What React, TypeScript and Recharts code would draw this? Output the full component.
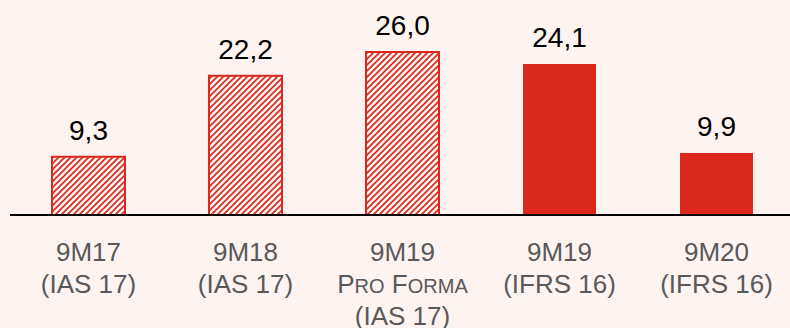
import React from "react";
import { BarChart, Bar, XAxis, YAxis, Cell, LabelList } from "recharts";

const categories = ["9M17", "9M18", "9M19", "9M19", "9M20"];
const subLabels = [["(IAS 17)"], ["(IAS 17)"], ["PRO FORMA", "(IAS 17)"], ["(IFRS 16)"], ["(IFRS 16)"]];
const values = [9.3, 22.2, 26.0, 24.1, 9.9];
const hatched = [true, true, true, false, false];

const data = categories.map((c, i) => ({ name: c, idx: i, value: values[i] }));

const RED = "#DA291C";
const FONT = "'Liberation Sans', Arial, sans-serif";

const SmallCaps = ({ text }: { text: string }) => {
  const words = text.split(" ");
  const parts: React.ReactNode[] = [];
  words.forEach((w, wi) => {
    parts.push(
      <tspan key={wi + "a"} fontSize={26}>{(wi > 0 ? " " : "") + w[0]}</tspan>
    );
    parts.push(
      <tspan key={wi + "b"} fontSize={20}>{w.slice(1)}</tspan>
    );
  });
  return <>{parts}</>;
};

const Tick = (props: any) => {
  const { x, y, payload } = props;
  const i = payload.index;
  const lines = [categories[i], ...subLabels[i]];
  return (
    <g>
      {lines.map((l, k) => (
        <text
          key={k}
          x={x}
          y={y + 46 + k * 32}
          textAnchor="middle"
          fill="#595959"
          fontSize={26}
          fontFamily={FONT}
        >
          {l === "PRO FORMA" ? <SmallCaps text="PRO FORMA" /> : l}
        </text>
      ))}
    </g>
  );
};

const fmt = (v: any) => Number(v).toFixed(1).replace(".", ",");

export default function App() {
  return (
    <div
      style={{
        position: "absolute",
        left: 0,
        top: 0,
        width: 790,
        height: 328,
        overflow: "hidden",
        background: "#FDF3F1",
      }}
    >
      <BarChart
        width={800}
        height={328}
        data={data}
        margin={{ top: 52, right: 5, left: 10, bottom: 0 }}
        barSize={73}
      >
        <defs>
          <pattern id="hatch" patternUnits="userSpaceOnUse" width="6" height="6">
            <rect width="6" height="6" fill="#FDF3F1" />
            <path d="M-1,7 L7,-1 M-1,1 L1,-1 M5,7 L7,5" stroke={RED} strokeWidth={1.6} />
          </pattern>
        </defs>
        <YAxis hide domain={[0, 26]} />
        <XAxis
          dataKey="idx"
          height={113}
          tickLine={false}
          tickSize={0}
          tickMargin={0}
          axisLine={{ stroke: "#000", strokeWidth: 2 }}
          tick={<Tick />}
          interval={0}
        />
        <Bar dataKey="value" isAnimationActive={false}>
          {data.map((d, i) => (
            <Cell
              key={i}
              fill={hatched[i] ? "url(#hatch)" : RED}
              stroke={RED}
              strokeWidth={hatched[i] ? 2 : 0}
            />
          ))}
          <LabelList
            dataKey="value"
            position="top"
            offset={17}
            formatter={fmt}
            fill="#000"
            fontSize={28}
            fontFamily={FONT}
          />
        </Bar>
      </BarChart>
    </div>
  );
}
